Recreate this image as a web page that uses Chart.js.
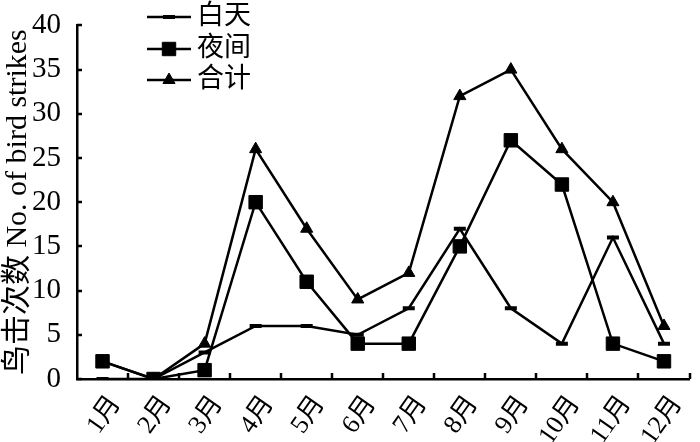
<!DOCTYPE html>
<html lang="zh">
<head>
<meta charset="UTF-8">
<title>鸟击次数</title>
<script src="https://cdn.jsdelivr.net/npm/chart.js"></script>
<style>
  html, body { margin: 0; padding: 0; background: #fff; }
  #wrap { width: 700px; height: 442px; }
</style>
</head>
<body>
<div id="wrap"><canvas id="birdChart"></canvas></div>
<script>
const months = ["1月", "2月", "3月", "4月", "5月", "6月", "7月", "8月", "9月", "10月", "11月", "12月"];
const dayStrikes = [0, 0, 3, 6, 6, 5, 8, 17, 8, 4, 16, 4];
const nightStrikes = [2, 0, 1, 20, 11, 4, 4, 15, 27, 22, 4, 2];
const totalStrikes = [2, 0, 4, 26, 17, 9, 12, 32, 35, 26, 20, 6];
const seriesNames = ["白天", "夜间", "合计"];
const yMin = 0, yMax = 40, yStep = 5;

const serif = '"Liberation Serif", "Noto Sans CJK SC", serif';

// ticks drawn inward, like the original figure
const inwardTicks = {
    id: "inwardTicks",
    afterDatasetsDraw(chart) {
        const ctx = chart.ctx;
        const x = chart.scales.x, y = chart.scales.y;
        ctx.save();
        ctx.strokeStyle = "#000";
        ctx.lineWidth = 2.5;
        ctx.beginPath();
        for (let v = yMin; v <= yMax; v += yStep) {
            const py = Math.round(y.getPixelForValue(v));
            ctx.moveTo(x.left, py);
            ctx.lineTo(x.left + 5, py);
        }
        const half = (x.getPixelForValue(1) - x.getPixelForValue(0)) / 2;
        for (let i = 0; i < months.length; i++) {
            const px = Math.round(x.getPixelForValue(i) + half);
            ctx.moveTo(px, y.bottom);
            ctx.lineTo(px, y.bottom - 6);
        }
        ctx.stroke();
        ctx.restore();
    }
};

// legend in the upper-left corner of the plot
const cornerLegend = {
    id: "cornerLegend",
    afterDraw(chart) {
        const ctx = chart.ctx;
        const rows = [17, 49, 80];
        ctx.save();
        chart.data.datasets.forEach((ds, i) => {
            const yy = rows[i];
            ctx.strokeStyle = "#000";
            ctx.lineWidth = 2.5;
            ctx.beginPath();
            ctx.moveTo(147, yy);
            ctx.lineTo(191, yy);
            ctx.stroke();
            ctx.fillStyle = "#000";
            ctx.lineWidth = ds.pointBorderWidth || 1;
            Chart.helpers.drawPoint(ctx, {
                pointStyle: ds.pointStyle,
                radius: ds.pointRadius,
                borderWidth: ds.pointBorderWidth || 1,
                rotation: 0
            }, 169, yy);
            ctx.fillStyle = "#000";
            ctx.font = "27px " + serif;
            ctx.textBaseline = "middle";
            ctx.fillText(ds.label, 197, yy);
        });
        ctx.restore();
    }
};

const makeSet = (label, data, style, radius, bw) => ({
    label: label,
    data: data,
    borderColor: "#000",
    backgroundColor: "#000",
    borderWidth: 2.5,
    pointStyle: style,
    pointRadius: radius,
    pointBorderWidth: bw,
    pointBackgroundColor: "#000",
    pointBorderColor: "#000",
    tension: 0
});

new Chart(document.getElementById("birdChart"), {
    type: "line",
    data: {
        labels: months,
        datasets: [
            makeSet(seriesNames[0], dayStrikes, "line", 6, 4),
            makeSet(seriesNames[1], nightStrikes, "rect", 9.5, 1),
            makeSet(seriesNames[2], totalStrikes, "triangle", 7, 1)
        ]
    },
    options: {
        responsive: true,
        maintainAspectRatio: false,
        animation: false,
        layout: { padding: { top: 12, right: 0, left: 0, bottom: 0 } },
        plugins: {
            legend: { display: false },
            tooltip: { enabled: false }
        },
        scales: {
            x: {
                offset: true,
                grid: { display: false, offset: true },
                border: { display: true, color: "#000", width: 2.5 },
                ticks: {
                    color: "#000",
                    font: { family: serif, size: 26 },
                    maxRotation: 55,
                    minRotation: 55,
                    padding: 3,
                    labelOffset: 13,
                    autoSkip: false
                },
                afterFit(scale) { scale.height = 63; }
            },
            y: {
                min: yMin,
                max: yMax,
                grid: { display: false },
                border: { display: true, color: "#000", width: 2.5 },
                ticks: {
                    stepSize: yStep,
                    color: "#000",
                    font: { family: serif, size: 29 },
                    padding: 8
                },
                title: {
                    display: true,
                    text: "鸟击次数 No. of bird strikes",
                    color: "#000",
                    font: { family: serif, size: 30 },
                    padding: { top: 0, bottom: 0 }
                },
                afterFit(scale) { scale.width = 77; }
            }
        }
    },
    plugins: [inwardTicks, cornerLegend]
});
</script>
</body>
</html>
